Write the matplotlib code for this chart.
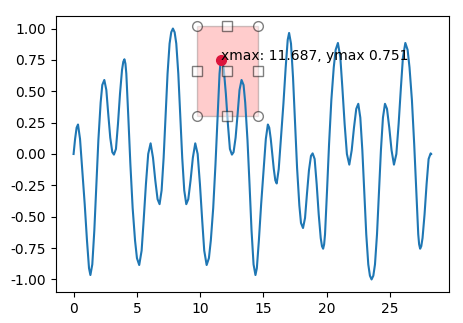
import matplotlib
matplotlib.use("Agg")
import matplotlib.pyplot as plt
from matplotlib.patches import Rectangle

# ---- signal ----
t = [0.00, 0.12, 0.24, 0.35, 0.51, 0.69, 0.88, 1.06, 1.22, 1.33, 1.48, 1.64, 1.80, 1.96, 2.14, 2.27,
     2.43, 2.59, 2.74, 2.90, 3.06, 3.19, 3.35, 3.51, 3.67, 3.83, 3.93, 4.02, 4.10, 4.17, 4.33,
     4.49, 4.67, 4.86, 5.01, 5.19, 5.38, 5.54, 5.72, 5.90, 6.09, 6.28, 6.46, 6.64, 6.80, 6.96,
     7.12, 7.28, 7.43, 7.59, 7.72, 7.854,
     7.99, 8.12, 8.28, 8.43, 8.59, 8.75, 8.91, 9.07, 9.25, 9.43, 9.62, 9.81, 9.99, 10.17, 10.33,
     10.52, 10.70, 10.85, 11.04, 11.22, 11.38, 11.54, 11.61, 11.69, 11.78, 11.88, 12.04, 12.20,
     12.36, 12.52, 12.65, 12.81, 12.97, 13.12, 13.28, 13.44, 13.57, 13.75, 13.91, 14.07, 14.23,
     14.38, 14.49, 14.65, 14.83, 15.02, 15.20, 15.36, 15.47, 15.59, 15.71,
     15.83, 15.95, 16.06, 16.22, 16.40, 16.59, 16.77, 16.93, 17.04, 17.19, 17.35, 17.51, 17.67, 17.85,
     17.98, 18.14, 18.30, 18.45, 18.61, 18.77, 18.90, 19.06, 19.22, 19.38, 19.54, 19.64, 19.73,
     19.81, 19.88, 20.04, 20.20, 20.38, 20.57, 20.72, 20.90, 21.09, 21.25, 21.43, 21.61, 21.80,
     21.99, 22.17, 22.35, 22.51, 22.67, 22.83, 22.99, 23.14, 23.30, 23.43, 23.56,
     23.70, 23.83, 23.99, 24.14, 24.30, 24.46, 24.62, 24.78, 24.96, 25.14, 25.33, 25.52, 25.70,
     25.88, 26.04, 26.23, 26.41, 26.56, 26.75, 26.93, 27.09, 27.25, 27.32, 27.40, 27.49, 27.59,
     27.75, 27.91, 28.07, 28.23, 28.27]

signal = [0.00, 0.12, 0.21, 0.235, 0.12, -0.13, -0.40, -0.69, -0.91, -0.965, -0.88, -0.61, -0.24, 0.11,
          0.41, 0.55, 0.59, 0.51, 0.32, 0.13, 0.015, -0.005, 0.04, 0.24, 0.48, 0.67, 0.735, 0.755,
          0.72, 0.64, 0.29, -0.08, -0.43, -0.69, -0.83, -0.885, -0.77, -0.53, -0.24, 0.00, 0.085,
          -0.03, -0.21, -0.36, -0.40, -0.29, -0.03, 0.32, 0.64, 0.88, 0.97, 1.00,
          0.97, 0.88, 0.64, 0.32, -0.03, -0.29, -0.40, -0.36, -0.21, -0.03, 0.085, 0.00, -0.24,
          -0.53, -0.77, -0.885, -0.83, -0.69, -0.43, -0.08, 0.29, 0.64, 0.72, 0.755, 0.735, 0.67,
          0.48, 0.24, 0.04, -0.005, 0.015, 0.13, 0.32, 0.51, 0.59, 0.55, 0.41, 0.11, -0.24, -0.61,
          -0.88, -0.965, -0.91, -0.69, -0.40, -0.13, 0.12, 0.235, 0.21, 0.12, 0.00,
          -0.12, -0.21, -0.235, -0.12, 0.13, 0.40, 0.69, 0.91, 0.965, 0.88, 0.61, 0.24, -0.11, -0.41,
          -0.55, -0.59, -0.51, -0.32, -0.13, -0.015, 0.005, -0.04, -0.24, -0.48, -0.67, -0.735,
          -0.755, -0.72, -0.64, -0.29, 0.08, 0.43, 0.69, 0.83, 0.885, 0.77, 0.53, 0.24, 0.00,
          -0.085, 0.03, 0.21, 0.36, 0.40, 0.29, 0.03, -0.32, -0.64, -0.88, -0.97, -1.00,
          -0.97, -0.88, -0.64, -0.32, 0.03, 0.29, 0.40, 0.36, 0.21, 0.03, -0.085, 0.00, 0.24,
          0.53, 0.77, 0.885, 0.83, 0.69, 0.43, 0.08, -0.29, -0.64, -0.72, -0.755, -0.735, -0.67,
          -0.48, -0.24, -0.04, 0.005, 0.00]

# ---- selection rectangle extents (data units) ----
sel_x = [9.74, 14.56]
sel_y = [0.305, 1.022]

# ---- highlighted maximum ----
xmax_val = 11.687
ymax_val = 0.751

xticks = [0, 5, 10, 15, 20, 25]
yticks = [-1.00, -0.75, -0.50, -0.25, 0.00, 0.25, 0.50, 0.75, 1.00]

fig = plt.figure(figsize=(4.63, 3.23), dpi=100)
ax = fig.add_axes([0.1203, 0.096, 0.8495, 0.8545])

ax.plot(t, signal, color="#1f77b4", linewidth=1.5)

x0, x1 = sel_x
y0, y1 = sel_y
rect = Rectangle((x0, y0), x1 - x0, y1 - y0, facecolor="red", edgecolor="black",
                 alpha=0.2, zorder=1)
ax.add_patch(rect)

xm = (x0 + x1) / 2
ym = (y0 + y1) / 2
handle_style = dict(markersize=7, markerfacecolor="w", markeredgecolor="k",
                    linestyle="none", alpha=0.5, zorder=3)
ax.plot([x0, x1, x1, x0], [y0, y0, y1, y1], marker="o", **handle_style)
ax.plot([xm, x1, xm, x0], [y0, ym, y1, ym], marker="s", **handle_style)
ax.plot([xm], [ym], marker="s", **handle_style)

ax.plot([xmax_val], [ymax_val], "o", color="crimson", markersize=7, zorder=4)
ax.text(xmax_val, ymax_val, f"xmax: {xmax_val:.3f}, ymax {ymax_val:.3f}", fontsize=10, zorder=5)

ax.set_xlim(-0.05 * 28.27, 1.05 * 28.27)
ax.set_ylim(-1.1, 1.1)
ax.set_xticks(xticks)
ax.set_yticks(yticks)
ax.set_yticklabels([f"{v:.2f}" for v in yticks])

fig.savefig("out.png", dpi=100)
